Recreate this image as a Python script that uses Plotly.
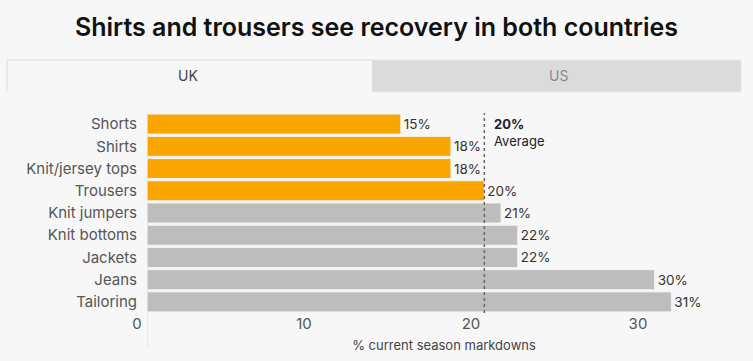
import plotly.graph_objects as go

categories = ["Shorts", "Shirts", "Knit/jersey tops", "Trousers", "Knit jumpers",
              "Knit bottoms", "Jackets", "Jeans", "Tailoring"]
values = [15.2, 18.2, 18.2, 20.2, 21.2, 22.2, 22.2, 30.4, 31.4]
labels = ["15%", "18%", "18%", "20%", "21%", "22%", "22%", "30%", "31%"]
highlight = [True, True, True, True, False, False, False, False, False]
average = 20.2
average_label = "20%"
tabs = ["UK", "US"]
tick_vals = [0, 10, 20, 30]

ORANGE = "#FBA600"
GREY = "#BDBDBD"
BG = "#F7F7F7"
FONT = "Inter, Roboto, sans-serif"

colors = [ORANGE if h else GREY for h in highlight]

fig = go.Figure()
fig.add_trace(go.Bar(
    x=values, y=categories, orientation="h",
    marker=dict(color=colors, line=dict(color="#F2F2F2", width=1)),
    text=labels, textposition="outside", cliponaxis=False,
    textfont=dict(family=FONT, size=13.5, color="#333333"),
    hoverinfo="skip",
))

# average line
fig.add_shape(type="line", xref="x", yref="paper", x0=average, x1=average, y0=0, y1=1,
              line=dict(color="#666666", width=1.5, dash="dot"))
# zero axis line
fig.add_shape(type="line", xref="x", yref="paper", x0=0, x1=0, y0=-0.175, y1=1,
              line=dict(color="#DDDDDD", width=1))
fig.add_annotation(x=average, xref="x", xshift=8, y=1.0, yref="paper", yshift=-1,
                   text="<b>" + average_label + "</b><br>Average", showarrow=False,
                   xanchor="left", yanchor="top", align="left",
                   font=dict(family=FONT, size=13, color="#222222"))

# tabs
ty0 = (313 - 92) / 200
ty1 = (313 - 60) / 200
ux0 = (7 - 147) / 594
ux1 = (372 - 147) / 594
sx1 = (741 - 147) / 594
fig.add_shape(type="line", xref="paper", yref="paper", x0=ux0, x1=ux1, y0=ty1, y1=ty1,
              line=dict(color="#E4E4E4", width=1.5))
fig.add_shape(type="line", xref="paper", yref="paper", x0=ux0, x1=ux0, y0=ty0, y1=ty1,
              line=dict(color="#E4E4E4", width=1.5))
fig.add_shape(type="rect", xref="paper", yref="paper", x0=ux1, x1=sx1,
              y0=ty0, y1=ty1, fillcolor="#DCDBDB",
              line=dict(color="#E6E6E6", width=1), layer="below")
fig.add_annotation(x=(188-147)/594, xref="paper", y=(313-76)/200, yref="paper",
                   text=tabs[0], showarrow=False, xanchor="center", yanchor="middle",
                   font=dict(family=FONT, size=14, color="#444444"))
fig.add_annotation(x=(558-147)/594, xref="paper", y=(313-76)/200, yref="paper",
                   text=tabs[1], showarrow=False, xanchor="center", yanchor="middle",
                   font=dict(family=FONT, size=14, color="#8A8A8A"))

fig.update_layout(
    width=753, height=361,
    margin=dict(l=147, r=12, t=113, b=48),
    paper_bgcolor=BG, plot_bgcolor=BG,
    bargap=0.1,
    showlegend=False,
    title=dict(text="Shirts and trousers see recovery in both countries",
               x=0.5, xanchor="center", y=1 - 27/361, yanchor="middle",
               font=dict(family=FONT, size=25, color="#111111", weight=600)),
    xaxis=dict(range=[0, 35.57], tickvals=tick_vals, showgrid=False, zeroline=False,
               showline=False, ticks="", ticklabelshift=-10,
               tickfont=dict(family=FONT, size=15, color="#555555"),
               title=dict(text="% current season markdowns", standoff=8,
                          font=dict(family=FONT, size=13, color="#444444"))),
    yaxis=dict(categoryorder="array", categoryarray=categories, autorange="reversed",
               showgrid=False, zeroline=False, showline=False, ticks="",
               ticklabelstandoff=9,
               tickfont=dict(family=FONT, size=15, color="#555555")),
)

fig.write_html("out.html", config={"displayModeBar": False},
               post_script="document.body.style.margin='0px';")
